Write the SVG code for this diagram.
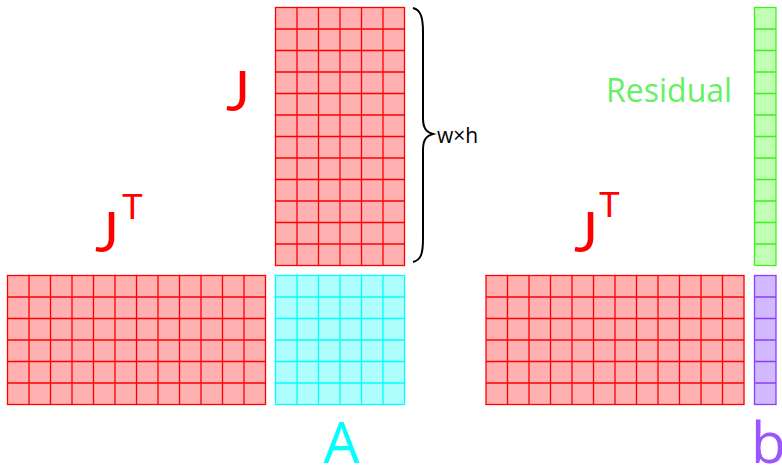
<svg xmlns="http://www.w3.org/2000/svg" width="782" height="467" viewBox="0 0 782 467">
<style>
.red{fill:#ffb0b0;stroke:#ff0000;stroke-width:1.3}
.cyan{fill:#b0ffff;stroke:#00ffff;stroke-width:1.3}
.green{fill:#c0ffb4;stroke:#40f020;stroke-width:1.3}
.purple{fill:#d2b8ff;stroke:#8a3cff;stroke-width:1.3}
.gl{fill:none}
.lbl{font-family:"Open Sans","Liberation Sans",sans-serif}
.jl{font-family:Lato,"Open Sans",sans-serif;fill:#ff0000}
</style>
<g id="J">
<rect class="red" x="275.5" y="7.5" width="129" height="258"/>
<path class="red gl" d="M297,7.5V265.5M318.5,7.5V265.5M340,7.5V265.5M361.5,7.5V265.5M383,7.5V265.5M275.5,29H404.5M275.5,50.5H404.5M275.5,72H404.5M275.5,93.5H404.5M275.5,115H404.5M275.5,136.5H404.5M275.5,158H404.5M275.5,179.5H404.5M275.5,201H404.5M275.5,222.5H404.5M275.5,244H404.5"/>
<text class="jl" x="226" y="111" font-size="57">J</text>
</g>
<g id="JT-left">
<rect class="red" x="7.5" y="275.5" width="258" height="129"/>
<path class="red gl" d="M29,275.5V404.5M50.5,275.5V404.5M72,275.5V404.5M93.5,275.5V404.5M115,275.5V404.5M136.5,275.5V404.5M158,275.5V404.5M179.5,275.5V404.5M201,275.5V404.5M222.5,275.5V404.5M244,275.5V404.5M7.5,297H265.5M7.5,318.5H265.5M7.5,340H265.5M7.5,361.5H265.5M7.5,383H265.5"/>
<text class="jl" x="95" y="252" font-size="57">J</text>
<text class="jl" x="122" y="219" font-size="35">T</text>
</g>
<g id="A">
<rect class="cyan" x="275.5" y="275.5" width="129" height="129"/>
<path class="cyan gl" d="M297,275.5V404.5M318.5,275.5V404.5M340,275.5V404.5M361.5,275.5V404.5M383,275.5V404.5M275.5,297H404.5M275.5,318.5H404.5M275.5,340H404.5M275.5,361.5H404.5M275.5,383H404.5"/>
<text class="lbl" x="341.5" y="463" font-size="57" fill="#00ffff" text-anchor="middle">A</text>
</g>
<g id="JT-right">
<rect class="red" x="486" y="275.5" width="258" height="129"/>
<path class="red gl" d="M507.5,275.5V404.5M529,275.5V404.5M550.5,275.5V404.5M572,275.5V404.5M593.5,275.5V404.5M615,275.5V404.5M636.5,275.5V404.5M658,275.5V404.5M679.5,275.5V404.5M701,275.5V404.5M722.5,275.5V404.5M486,297H744M486,318.5H744M486,340H744M486,361.5H744M486,383H744"/>
<text class="jl" x="574" y="252" font-size="57">J</text>
<text class="jl" x="599" y="217" font-size="35">T</text>
</g>
<g id="Residual">
<rect class="green" x="754.5" y="7.5" width="21.5" height="258"/>
<path class="green gl" d="M754.5,29H776M754.5,50.5H776M754.5,72H776M754.5,93.5H776M754.5,115H776M754.5,136.5H776M754.5,158H776M754.5,179.5H776M754.5,201H776M754.5,222.5H776M754.5,244H776"/>
<text class="lbl" x="606" y="101.7" font-size="32" fill="#66f066">Residual</text>
</g>
<g id="b">
<rect class="purple" x="754.5" y="275.5" width="21.5" height="129"/>
<path class="purple gl" d="M754.5,297H776M754.5,318.5H776M754.5,340H776M754.5,361.5H776M754.5,383H776"/>
<text class="lbl" x="751" y="463" font-size="57" fill="#9955ff">b</text>
</g>
<g id="connectors">
<path d="M413,8 C421,10 423,18 423,32 L423,118 C423,128 426,132 433,134 C426,136 423,140 423,150 L423,238 C423,254 421,260 413,262" fill="none" stroke="#000" stroke-width="2"/>
<text class="lbl" x="437" y="142.7" font-size="21" fill="#000">w×h</text>
</g>
</svg>
